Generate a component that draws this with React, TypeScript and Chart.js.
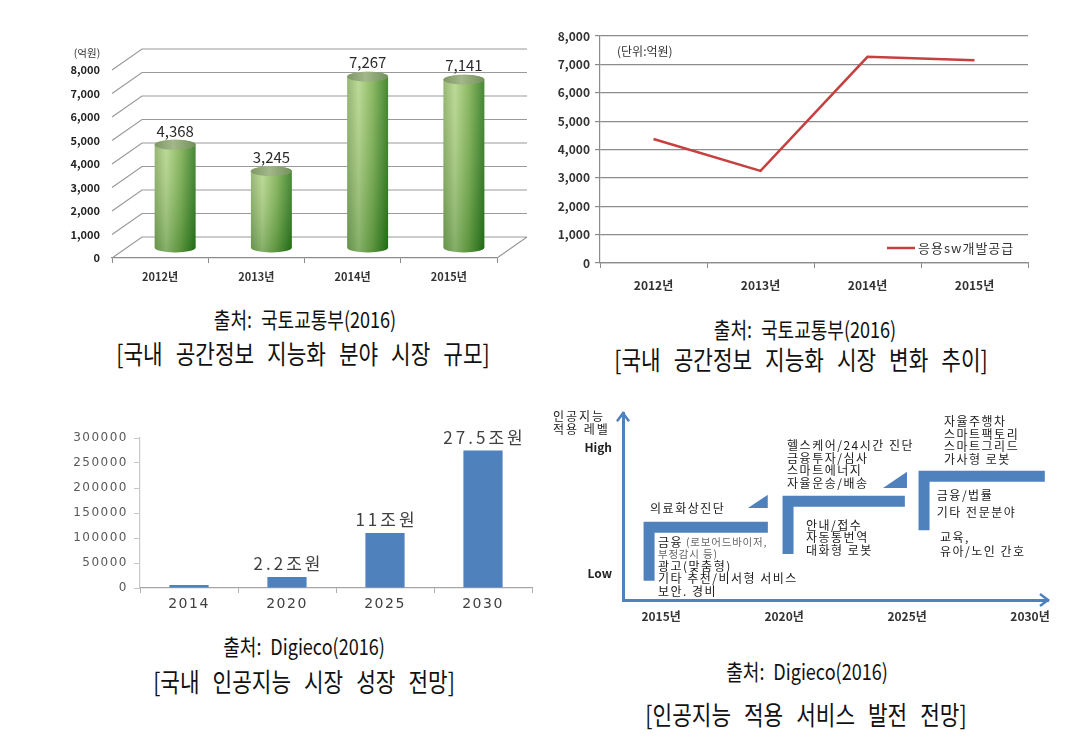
import React, { useEffect, useRef } from 'react';
import { Chart, registerables } from 'chart.js';

Chart.register(...registerables);

const FONT = '"Noto Sans CJK KR", "Noto Sans", sans-serif';
const BLUE = '#4f81bd';

// ---------- Panel 1: 국내 공간정보 지능화 분야 시장 규모 ----------
const marketYears = ['2012년', '2013년', '2014년', '2015년'];
const marketValues = [4368, 3245, 7267, 7141];
const marketUnit = '(억원)';

// ---------- Panel 2: 시장 변화 추이 ----------
const trendYears = ['2012년', '2013년', '2014년', '2015년'];
const trendValues = [4368, 3245, 7267, 7141];
const trendSeriesName = '응용sw개발공급';
const trendUnit = '(단위:억원)';

// ---------- Panel 3: 국내 인공지능 시장 성장 전망 ----------
const aiYears = ['2014', '2020', '2025', '2030'];
const aiValues = [6000, 22000, 110000, 275000];
const aiValueLabels = ['', '2.2조원', '11조원', '27.5조원'];

// ---------- Panel 4: 인공지능 적용 서비스 발전 전망 ----------
const diagramYears = [2015, 2020, 2025, 2030];
const levelValues = [14.4, 81.5];
const levelNames = ['Low', 'High'];
const stepX = [2014.51, 2020.16, 2025.69];
const stepBottom = [10.3, 24.6, 37.4];
const stepTop = [39.0, 52.8, 66.2];
const stepEnd = [2019.34, 2024.91, 2030.6];
const triStart = [2018.53, 2024.02];
const triEnd = [2019.34, 2025.0];
const triBase = [49.2, 60.0];
const triTop = [56.4, 68.7];
const serviceText = [
  '의료화상진단', '금융', '(로보어드바이저,', '부정감시 등)', '광고(맞춤형)', '기타 추천/비서형 서비스', '보안. 경비',
  '헬스케어/24시간 진단', '금융투자/심사', '스마트에너지', '자율운송/배송',
  '안내/접수', '자동통번역', '대화형 로봇',
  '자율주행차', '스마트팩토리', '스마트그리드', '가사형 로봇',
  '금융/법률', '기타 전문분야', '교육,', '유아/노인 간호',
];
const serviceYear = [
  2014.55, 2014.87, 2016.01, 2014.87, 2014.87, 2014.87, 2014.87,
  2020.12, 2020.12, 2020.12, 2020.12,
  2020.89, 2020.89, 2020.89,
  2026.5, 2026.5, 2026.5, 2026.5,
  2026.21, 2026.21, 2026.34, 2026.34,
];
const serviceLevel = [
  49.2, 30.8, 30.8, 24.6, 17.9, 11.3, 4.6,
  82.6, 75.9, 69.2, 62.6,
  40.0, 33.3, 26.7,
  95.4, 88.7, 82.1, 75.4,
  55.9, 46.7, 33.3, 26.2,
];
const serviceSmall = [
  false, false, true, true, false, false, false,
  false, false, false, false,
  false, false, false,
  false, false, false, false,
  false, false, false, false,
];
const levelAxisTitle = ['인공지능', '적용 레벨'];

// ---------- Captions ----------
const captions = [
  { text: '출처: 국토교통부(2016)', cx: 305, cy: 318, size: 22, ws: 6 },
  { text: '[국내 공간정보 지능화 분야 시장 규모]', cx: 303, cy: 352, size: 26, ws: 10 },
  { text: '출처: 국토교통부(2016)', cx: 805, cy: 328, size: 22, ws: 6 },
  { text: '[국내 공간정보 지능화 시장 변화 추이]', cx: 801, cy: 358, size: 26, ws: 10 },
  { text: '출처: Digieco(2016)', cx: 304, cy: 645, size: 22, ws: 6 },
  { text: '[국내 인공지능 시장 성장 전망]', cx: 304, cy: 680, size: 26, ws: 10 },
  { text: '출처: Digieco(2016)', cx: 807, cy: 670, size: 22, ws: 6 },
  { text: '[인공지능 적용 서비스 발전 전망]', cx: 806, cy: 713, size: 26, ws: 10 },
];

const DX = 30;
const DY = 21;

const fmt = (v: number) => Number(v).toLocaleString('en-US');

const grid3dPlugin = {
  id: 'grid3d',
  beforeDatasetsDraw(chart: any) {
    const { ctx, chartArea } = chart;
    const ys = chart.scales.y;
    const { left, right, bottom, top } = chartArea;
    ctx.save();
    ctx.strokeStyle = '#9a9a9a';
    ctx.lineWidth = 1.2;
    ctx.beginPath();
    ys.ticks.forEach((t: any) => {
      const py = ys.getPixelForValue(t.value);
      ctx.moveTo(left, py);
      ctx.lineTo(left + DX, py - DY);
      ctx.lineTo(right + DX, py - DY);
    });
    ctx.moveTo(right, bottom);
    ctx.lineTo(right + DX, bottom - DY);
    ctx.stroke();
    ctx.fillStyle = '#333';
    ctx.font = `10.5px ${FONT}`;
    ctx.textAlign = 'center';
    ctx.textBaseline = 'middle';
    ctx.fillText(marketUnit, left - 25, top - 17);
    ctx.restore();
  },
};

const cylinderPlugin = {
  id: 'cylinders',
  afterDatasetsDraw(chart: any) {
    const { ctx } = chart;
    const meta = chart.getDatasetMeta(0);
    ctx.save();
    meta.data.forEach((el: any, i: number) => {
      const { x, y, base, width } = el.getProps(['x', 'y', 'base', 'width'], true);
      const cx = x + DX / 2;
      const top = y - DY / 2;
      const bot = base - DY / 2;
      const rx = width / 2;
      const ry = 5;
      const l = cx - rx;
      const r = cx + rx;
      const body = new Path2D();
      body.moveTo(l, top);
      body.lineTo(l, bot);
      body.ellipse(cx, bot, rx, ry, 0, Math.PI, 0, true);
      body.lineTo(r, top);
      body.ellipse(cx, top, rx, ry, 0, 0, Math.PI, true);
      body.closePath();
      const g = ctx.createLinearGradient(l, 0, r, 0);
      g.addColorStop(0, '#8aad66');
      g.addColorStop(0.28, '#b6d68f');
      g.addColorStop(0.62, '#7eb054');
      g.addColorStop(1, '#2a761d');
      ctx.fillStyle = g;
      ctx.fill(body);
      const v = ctx.createLinearGradient(0, top, 0, bot + ry);
      v.addColorStop(0, 'rgba(230,240,200,0.15)');
      v.addColorStop(1, 'rgba(0,70,0,0.28)');
      ctx.fillStyle = v;
      ctx.fill(body);
      const tg = ctx.createLinearGradient(l, 0, r, 0);
      tg.addColorStop(0, '#7f9867');
      tg.addColorStop(0.45, '#a2b78a');
      tg.addColorStop(1, '#72905a');
      ctx.fillStyle = tg;
      ctx.beginPath();
      ctx.ellipse(cx, top, rx, ry, 0, 0, Math.PI * 2);
      ctx.fill();
      ctx.fillStyle = '#2b2b2b';
      ctx.font = `15px ${FONT}`;
      ctx.textAlign = 'center';
      ctx.textBaseline = 'middle';
      ctx.fillText(fmt(marketValues[i]), cx, top - 14);
    });
    ctx.restore();
  },
};

const trendExtrasPlugin = {
  id: 'trendExtras',
  afterDatasetsDraw(chart: any) {
    const { ctx, chartArea } = chart;
    const { left, top, right, bottom } = chartArea;
    ctx.save();
    ctx.fillStyle = '#333';
    ctx.font = `12px ${FONT}`;
    ctx.textBaseline = 'middle';
    ctx.textAlign = 'left';
    ctx.fillText(trendUnit, left + 17, top + 15);
    ctx.strokeStyle = '#c5403f';
    ctx.lineWidth = 2.5;
    ctx.beginPath();
    ctx.moveTo(right - 141, bottom - 15);
    ctx.lineTo(right - 113, bottom - 15);
    ctx.stroke();
    ctx.font = `13px ${FONT}`;
    ctx.letterSpacing = '1px';
    ctx.fillStyle = '#333';
    ctx.fillText(trendSeriesName, right - 110, bottom - 15);
    ctx.letterSpacing = '0px';
    ctx.restore();
  },
};

const aiLabelsPlugin = {
  id: 'aiLabels',
  beforeDraw(chart: any) {
    chart.ctx.letterSpacing = '1.5px';
  },
  beforeDatasetsDraw(chart: any) {
    chart.ctx.letterSpacing = '0px';
  },
  afterDatasetsDraw(chart: any) {
    const { ctx } = chart;
    const meta = chart.getDatasetMeta(0);
    ctx.save();
    ctx.letterSpacing = '3px';
    ctx.fillStyle = '#404040';
    ctx.font = `17px ${FONT}`;
    ctx.textAlign = 'center';
    ctx.textBaseline = 'middle';
    meta.data.forEach((el: any, i: number) => {
      const { x, y } = el.getProps(['x', 'y'], true);
      if (aiValueLabels[i]) ctx.fillText(aiValueLabels[i], x + 1.5, y - 13);
    });
    ctx.restore();
    ctx.letterSpacing = '0px';
  },
};

const diagramPlugin = {
  id: 'diagram',
  afterDraw(chart: any) {
    const { ctx, chartArea } = chart;
    const xs = chart.scales.x;
    const ys = chart.scales.y;
    const { left, top, right, bottom } = chartArea;
    ctx.save();
    ctx.strokeStyle = BLUE;
    ctx.lineWidth = 2.5;
    ctx.lineJoin = 'miter';
    ctx.beginPath();
    ctx.moveTo(left - 6, top + 8);
    ctx.lineTo(left, top);
    ctx.lineTo(left + 6, top + 8);
    ctx.stroke();
    ctx.beginPath();
    ctx.moveTo(right - 8, bottom - 6);
    ctx.lineTo(right, bottom);
    ctx.lineTo(right - 8, bottom + 6);
    ctx.stroke();

    ctx.textBaseline = 'middle';
    ctx.textAlign = 'left';
    ctx.fillStyle = '#222';
    ctx.font = `12px ${FONT}`;
    ctx.letterSpacing = '2px';
    ctx.fillText(levelAxisTitle[0], left - 70, top + 3);
    ctx.fillText(levelAxisTitle[1], left - 70, top + 16);

    serviceText.forEach((t, i) => {
      const small = serviceSmall[i];
      ctx.font = small ? `10.5px ${FONT}` : `12px ${FONT}`;
      ctx.letterSpacing = small ? '0.8px' : '1.5px';
      ctx.fillStyle = small ? '#666' : '#1a1a1a';
      ctx.fillText(t, xs.getPixelForValue(serviceYear[i]), ys.getPixelForValue(serviceLevel[i]));
    });
    ctx.letterSpacing = '0px';
    ctx.restore();
  },
};

function config1(): any {
  return {
    type: 'bar',
    data: {
      labels: marketYears,
      datasets: [{ data: marketValues, backgroundColor: 'rgba(0,0,0,0)', barPercentage: 0.85, categoryPercentage: 0.5 }],
    },
    options: {
      animation: false,
      responsive: false,
      devicePixelRatio: 1,
      layout: { padding: { left: 0, top: 40, right: 43, bottom: 0 } },
      plugins: { legend: { display: false }, tooltip: { enabled: false } },
      scales: {
        x: {
          grid: { display: true, drawOnChartArea: false, drawTicks: true, tickLength: 5, color: '#8c8c8c', offset: true },
          border: { display: true, color: '#8c8c8c', width: 1.2 },
          ticks: { padding: 7, color: '#333', font: { family: FONT, size: 11, weight: 'bold' } },
          afterFit: (s: any) => { s.height = 37; },
        },
        y: {
          min: 0,
          max: 8000,
          ticks: { stepSize: 1000, padding: 12, color: '#222', font: { family: FONT, size: 11, weight: 'bold' }, callback: (v: any) => fmt(v) },
          grid: { display: false, drawTicks: false },
          border: { display: false },
          afterFit: (s: any) => { s.width = 72; },
        },
      },
    },
    plugins: [grid3dPlugin, cylinderPlugin],
  };
}

function config2(): any {
  return {
    type: 'line',
    data: {
      labels: trendYears,
      datasets: [{ label: trendSeriesName, data: trendValues, borderColor: '#c5403f', borderWidth: 2.5, pointRadius: 0, tension: 0, fill: false }],
    },
    options: {
      animation: false,
      responsive: false,
      devicePixelRatio: 1,
      layout: { padding: { left: 0, top: 16, right: 17, bottom: 0 } },
      plugins: { legend: { display: false }, tooltip: { enabled: false } },
      scales: {
        x: {
          offset: true,
          grid: { display: true, drawOnChartArea: false, drawTicks: true, tickLength: 5, color: '#8c8c8c', offset: true },
          border: { display: true, color: '#8c8c8c', width: 1.2 },
          ticks: { padding: 10, color: '#333', font: { family: FONT, size: 12, weight: 'bold' } },
          afterFit: (s: any) => { s.height = 37; },
        },
        y: {
          min: 0,
          max: 8000,
          ticks: { stepSize: 1000, padding: 5, color: '#333', font: { family: FONT, size: 12, weight: 'bold' }, callback: (v: any) => fmt(v) },
          grid: { color: '#8c8c8c', lineWidth: 1.2, drawTicks: true, tickLength: 5 },
          border: { display: true, color: '#8c8c8c', width: 1.2 },
          afterFit: (s: any) => { s.width = 55; },
        },
      },
    },
    plugins: [trendExtrasPlugin],
  };
}

function config3(): any {
  return {
    type: 'bar',
    data: {
      labels: aiYears,
      datasets: [{ data: aiValues, backgroundColor: BLUE, barPercentage: 0.8, categoryPercentage: 0.5 }],
    },
    options: {
      animation: false,
      responsive: false,
      devicePixelRatio: 1,
      layout: { padding: { left: 0, top: 23, right: 8, bottom: 0 } },
      plugins: { legend: { display: false }, tooltip: { enabled: false } },
      scales: {
        x: {
          grid: { display: true, drawOnChartArea: false, drawTicks: true, tickLength: 5, color: '#b0b0b0', offset: true },
          border: { display: true, color: '#a6a6a6', width: 1.2 },
          ticks: { padding: 3, color: '#404040', font: { family: '"DejaVu Sans", sans-serif', size: 14 } },
          afterFit: (s: any) => { s.height = 32; },
        },
        y: {
          min: 0,
          max: 300000,
          ticks: { stepSize: 50000, padding: 6, color: '#595959', font: { family: '"DejaVu Sans", sans-serif', size: 12 }, callback: (v: any) => String(v) },
          grid: { display: true, drawOnChartArea: false, drawTicks: true, tickLength: 6, color: '#c8c8c8' },
          border: { display: true, color: '#c8c8c8', width: 1.2 },
          afterFit: (s: any) => { s.width = 100; },
        },
      },
    },
    plugins: [aiLabelsPlugin],
  };
}

function config4(): any {
  const steps = stepX.map((sx, i) => ({
    data: [{ x: sx, y: stepBottom[i] }, { x: sx, y: stepTop[i] }, { x: stepEnd[i], y: stepTop[i] }],
    borderColor: BLUE,
    borderWidth: 11,
    borderJoinStyle: 'miter',
    borderCapStyle: 'butt',
    pointRadius: 0,
    fill: false,
    tension: 0,
  }));
  const tris = triStart.map((ts, i) => ({
    data: [{ x: ts, y: triBase[i] }, { x: triEnd[i], y: triTop[i] }],
    borderColor: 'rgba(0,0,0,0)',
    borderWidth: 0,
    backgroundColor: BLUE,
    pointRadius: 0,
    fill: { value: triBase[i] },
    tension: 0,
  }));
  return {
    type: 'line',
    data: { datasets: [...steps, ...tris] },
    options: {
      animation: false,
      responsive: false,
      devicePixelRatio: 1,
      layout: { padding: { left: 0, top: 10, right: 32, bottom: 0 } },
      plugins: { legend: { display: false }, tooltip: { enabled: false } },
      scales: {
        x: {
          type: 'linear',
          min: 2013.45,
          max: 2030.73,
          afterBuildTicks: (s: any) => { s.ticks = diagramYears.map((v) => ({ value: v })); },
          ticks: { autoSkip: false, padding: 9, color: '#333', font: { family: FONT, size: 12, weight: 'bold' }, callback: (v: any) => `${v}년` },
          grid: { display: false, drawTicks: false },
          border: { display: true, color: BLUE, width: 3 },
          afterFit: (s: any) => { s.height = 35; },
        },
        y: {
          type: 'linear',
          min: 0,
          max: 100,
          afterBuildTicks: (s: any) => { s.ticks = levelValues.map((v) => ({ value: v })); },
          ticks: { autoSkip: false, padding: 11, color: '#222', font: { family: FONT, size: 12, weight: 'bold' }, callback: (_v: any, i: number) => levelNames[i] },
          grid: { display: false, drawTicks: false },
          border: { display: true, color: BLUE, width: 3 },
          afterFit: (s: any) => { s.width = 83; },
        },
      },
    },
    plugins: [diagramPlugin],
  };
}

function ChartCanvas(props: { make: () => any; left: number; top: number; width: number; height: number }) {
  const ref = useRef<HTMLCanvasElement | null>(null);
  useEffect(() => {
    const chart = new Chart(ref.current as HTMLCanvasElement, props.make());
    return () => chart.destroy();
  }, []);
  return (
    <canvas
      ref={ref}
      width={props.width}
      height={props.height}
      style={{ position: 'absolute', left: props.left, top: props.top, width: props.width, height: props.height, display: 'block' }}
    />
  );
}

export default function App() {
  return (
    <div style={{ position: 'absolute', left: 0, top: 0, width: 1089, height: 740, background: '#fff', overflow: 'hidden' }}>
      <ChartCanvas make={config1} left={40} top={30} width={500} height={265} />
      <ChartCanvas make={config2} left={545} top={20} width={500} height={280} />
      <ChartCanvas make={config3} left={40} top={415} width={500} height={205} />
      <ChartCanvas make={config4} left={540} top={395} width={540} height={240} />
      {captions.map((c, i) => (
        <div
          key={i}
          style={{
            position: 'absolute',
            left: c.cx,
            top: c.cy - c.size * 0.75,
            whiteSpace: 'nowrap',
            fontFamily: FONT,
            fontSize: c.size,
            lineHeight: `${c.size * 1.5}px`,
            color: '#111',
            wordSpacing: c.ws,
            transform: 'translateX(-50%) scaleX(0.82)',
          }}
        >
          {c.text}
        </div>
      ))}
    </div>
  );
}
